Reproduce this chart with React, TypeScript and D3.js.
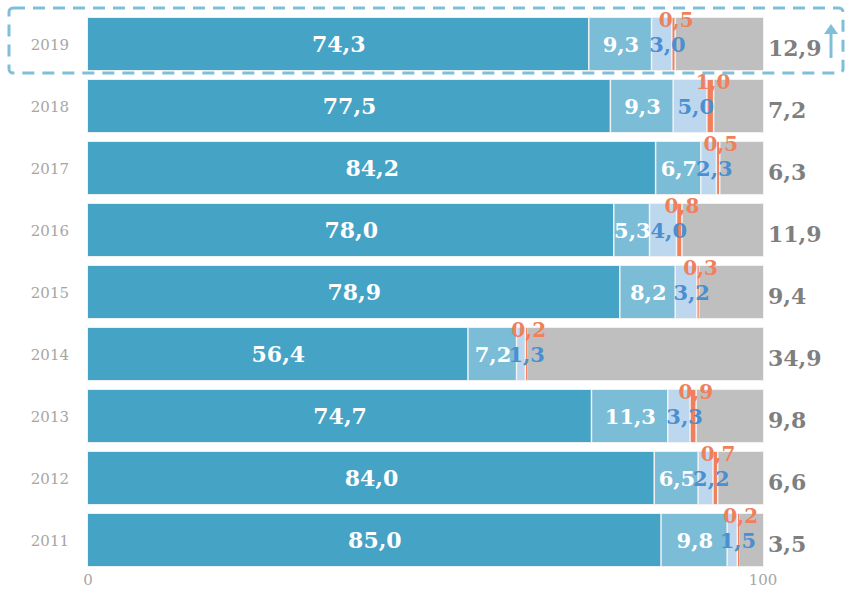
import { useEffect, useRef } from 'react';
import * as d3 from 'd3';

const years = ['2019', '2018', '2017', '2016', '2015', '2014', '2013', '2012', '2011'];
const seriesA = [74.3, 77.5, 84.2, 78.0, 78.9, 56.4, 74.7, 84.0, 85.0];
const seriesB = [9.3, 9.3, 6.7, 5.3, 8.2, 7.2, 11.3, 6.5, 9.8];
const seriesC = [3.0, 5.0, 2.3, 4.0, 3.2, 1.3, 3.3, 2.2, 1.5];
const seriesD = [0.5, 1.0, 0.5, 0.8, 0.3, 0.2, 0.9, 0.7, 0.2];
const seriesE = [12.9, 7.2, 6.3, 11.9, 9.4, 34.9, 9.8, 6.6, 3.5];
const xTicks = [0, 100];

const colors = {
  a: '#45A3C6',
  b: '#7BBCD6',
  c: '#BDD7EE',
  d: '#F07F5B',
  e: '#BFBFBF',
  blueText: '#4A8FD0',
  greyText: '#7F7F7F',
  axis: '#A6A6A6',
  dash: '#7FC0D8',
};

const fmt = (v: number) => v.toFixed(1).replace('.', ',');
const serif = '"DejaVu Serif", serif';

export default function App() {
  const ref = useRef<SVGSVGElement>(null);

  useEffect(() => {
    const svg = d3.select(ref.current);
    svg.selectAll('*').remove();

    const x = d3.scaleLinear().domain([0, 100]).range([88, 763]);
    const y = d3
      .scaleBand()
      .domain(years)
      .range([13, 571])
      .paddingInner(0.16)
      .paddingOuter(0.08);
    const bh = y.bandwidth();

    const series = [
      { key: 'a', values: seriesA, color: colors.a },
      { key: 'b', values: seriesB, color: colors.b },
      { key: 'c', values: seriesC, color: colors.c },
      { key: 'd', values: seriesD, color: colors.d },
      { key: 'e', values: seriesE, color: colors.e },
    ];

    const rows = years.map((yr, i) => {
      let acc = 0;
      const segs = series.map(s => {
        const v = s.values[i];
        const seg = { key: s.key, color: s.color, v, x0: acc, x1: acc + v };
        acc += v;
        return seg;
      });
      return { yr, segs };
    });

    // bar backgrounds (faint outline)
    svg
      .append('g')
      .selectAll('rect')
      .data(rows)
      .enter()
      .append('rect')
      .attr('x', x(0) - 1)
      .attr('y', d => y(d.yr) - 1)
      .attr('width', x(100) - x(0) + 2)
      .attr('height', bh + 2)
      .attr('fill', '#F2F2F2');

    const rowG = svg
      .append('g')
      .selectAll('g')
      .data(rows)
      .enter()
      .append('g')
      .attr('transform', d => `translate(0, ${y(d.yr)})`);

    rowG
      .selectAll('rect')
      .data(d => d.segs)
      .enter()
      .append('rect')
      .attr('x', d => x(d.x0))
      .attr('y', 0)
      .attr('width', d => Math.max(x(d.x1) - x(d.x0) - (d.key === 'e' ? 0 : 1.5), 1.2))
      .attr('height', bh)
      .attr('fill', d => d.color);

    // segment labels
    rowG.each(function (d) {
      const g = d3.select(this);
      const [a, b, c, dd, e] = d.segs;
      const mid = bh / 2 + 8;
      g.append('text')
        .attr('x', (x(a.x0) + x(a.x1)) / 2)
        .attr('y', mid)
        .attr('text-anchor', 'middle')
        .attr('fill', '#fff')
        .style('font-family', serif)
        .style('font-weight', 'bold')
        .style('font-size', '22px')
        .text(fmt(a.v));
      g.append('text')
        .attr('x', (x(b.x0) + x(b.x1)) / 2)
        .attr('y', mid)
        .attr('text-anchor', 'middle')
        .attr('fill', '#fff')
        .style('font-family', serif)
        .style('font-weight', 'bold')
        .style('font-size', '21px')
        .text(fmt(b.v));
      g.append('text')
        .attr('x', (x(c.x0) + x(c.x1)) / 2 + 5)
        .attr('y', mid)
        .attr('text-anchor', 'middle')
        .attr('fill', colors.blueText)
        .style('font-family', serif)
        .style('font-weight', 'bold')
        .style('font-size', '21px')
        .text(fmt(c.v));
      g.append('text')
        .attr('x', (x(dd.x0) + x(dd.x1)) / 2 + 2)
        .attr('y', 9)
        .attr('text-anchor', 'middle')
        .attr('fill', colors.d)
        .style('font-family', serif)
        .style('font-weight', 'bold')
        .style('font-size', '20px')
        .text(fmt(dd.v));
      g.append('text')
        .attr('x', x(100) + 5)
        .attr('y', bh / 2 + 12)
        .attr('text-anchor', 'start')
        .attr('fill', colors.greyText)
        .style('font-family', serif)
        .style('font-weight', 'bold')
        .style('font-size', '22px')
        .text(fmt(e.v));
    });

    // year labels
    svg
      .append('g')
      .selectAll('text')
      .data(years)
      .enter()
      .append('text')
      .attr('x', 69)
      .attr('y', d => y(d) + bh / 2 + 6)
      .attr('text-anchor', 'end')
      .attr('fill', colors.axis)
      .style('font-family', serif)
      .style('font-size', '15px')
      .text(d => d);

    // x axis tick labels
    svg
      .append('g')
      .selectAll('text')
      .data(xTicks)
      .enter()
      .append('text')
      .attr('x', d => x(d))
      .attr('y', 585)
      .attr('text-anchor', 'middle')
      .attr('fill', colors.axis)
      .style('font-family', serif)
      .style('font-size', '15px')
      .text(d => d);

    // highlight box around 2019
    const top = y('2019');
    svg
      .append('rect')
      .attr('x', 9)
      .attr('y', top - 10)
      .attr('width', 834)
      .attr('height', bh + 13)
      .attr('rx', 4)
      .attr('fill', 'none')
      .attr('stroke', colors.dash)
      .attr('stroke-width', 3)
      .attr('stroke-dasharray', '12 8');

    const arrowX = 831;
    svg
      .append('line')
      .attr('x1', arrowX)
      .attr('x2', arrowX)
      .attr('y1', top + 40)
      .attr('y2', top + 14)
      .attr('stroke', colors.dash)
      .attr('stroke-width', 3);
    svg
      .append('path')
      .attr('d', `M${arrowX - 7},${top + 16} L${arrowX},${top + 6} L${arrowX + 7},${top + 16} Z`)
      .attr('fill', colors.dash);
  }, []);

  return (
    <svg
      ref={ref}
      width={850}
      height={590}
      style={{ position: 'absolute', left: 0, top: 0, background: '#fff' }}
    />
  );
}
